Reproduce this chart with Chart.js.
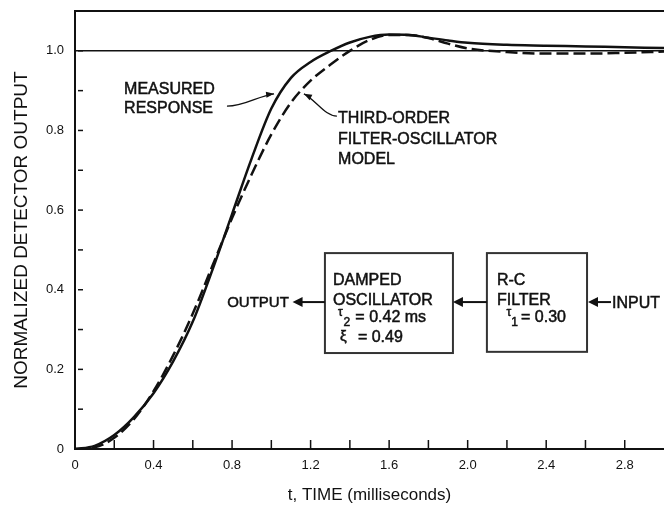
<!DOCTYPE html>
<html>
<head>
<meta charset="utf-8">
<script src="https://cdn.jsdelivr.net/npm/chart.js@4.4.1/dist/chart.umd.min.js"></script>
<style>
  html, body { margin: 0; padding: 0; background: #fff; }
  #wrap { width: 664px; height: 511px; }
</style>
</head>
<body>
<div id="wrap"><canvas id="c" width="664" height="511"></canvas></div>
<script>
// ---- data ----
const timeMs = [0, 0.1, 0.2, 0.3, 0.4, 0.5, 0.6, 0.7, 0.8, 0.9, 1.0, 1.1, 1.2, 1.3, 1.4, 1.5, 1.6, 1.7, 1.8, 1.9, 2.0, 2.2, 2.4, 2.6, 2.8, 3.0];
const measuredResponse = [0, 0.008, 0.035, 0.08, 0.14, 0.22, 0.32, 0.45, 0.59, 0.73, 0.855, 0.932, 0.972, 0.999, 1.021, 1.035, 1.041, 1.04, 1.033, 1.026, 1.02, 1.015, 1.013, 1.011, 1.009, 1.007];
const modelResponse = [0, 0.004, 0.028, 0.075, 0.145, 0.235, 0.34, 0.46, 0.58, 0.69, 0.79, 0.87, 0.925, 0.965, 1.0, 1.027, 1.04, 1.04, 1.032, 1.018, 1.006, 0.997, 0.993, 0.993, 0.995, 0.998];
const referenceT = [0, 3.0];
const referenceLevel = [1.0, 1.0];
const xTickLabels = ['0', '0.4', '0.8', '1.2', '1.6', '2.0', '2.4', '2.8'];
const yTickLabels = ['0', '0.2', '0.4', '0.6', '0.8', '1.0'];

const FONT = '"Liberation Sans", Arial, Helvetica, sans-serif';
const INK = '#111';

function pts(xs, ys) { return xs.map((x, i) => ({ x: x, y: ys[i] })); }

const decor = {
  id: 'decor',
  afterDraw(chart) {
    const ctx = chart.ctx;
    const xs = chart.scales.x, ys = chart.scales.y;
    const a = chart.chartArea;
    const X = t => xs.getPixelForValue(t);
    const Y = v => ys.getPixelForValue(v);
    ctx.save();
    ctx.strokeStyle = INK;
    ctx.fillStyle = INK;
    // top frame line
    ctx.lineWidth = 2;
    ctx.beginPath(); ctx.moveTo(a.left - 1, a.top); ctx.lineTo(a.right, a.top); ctx.stroke();
    // inner tick marks
    ctx.lineWidth = 1.5;
    xs.ticks.forEach(tk => {
      if (tk.value <= 0.001 || tk.value >= 2.99) return;
      const p = X(tk.value);
      ctx.beginPath(); ctx.moveTo(p, a.bottom); ctx.lineTo(p, a.bottom - 9); ctx.stroke();
    });
    ys.ticks.forEach(tk => {
      if (tk.value <= 0.001 || tk.value >= 1.09) return;
      const p = Y(tk.value);
      ctx.beginPath(); ctx.moveTo(a.left + 3, p); ctx.lineTo(a.left + 8, p); ctx.stroke();
    });

    function arrowHead(x1, y1, x2, y2, len, wid) {
      const ang = Math.atan2(y2 - y1, x2 - x1);
      ctx.beginPath();
      ctx.moveTo(x2, y2);
      ctx.lineTo(x2 - len * Math.cos(ang) + wid * Math.sin(ang), y2 - len * Math.sin(ang) - wid * Math.cos(ang));
      ctx.lineTo(x2 - len * Math.cos(ang) - wid * Math.sin(ang), y2 - len * Math.sin(ang) + wid * Math.cos(ang));
      ctx.closePath(); ctx.fill();
    }
    function text(s, t, v, size) {
      ctx.font = (size || 16) + 'px ' + FONT;
      ctx.textAlign = 'left'; ctx.textBaseline = 'alphabetic';
      ctx.lineWidth = 0.5;
      ctx.strokeStyle = INK;
      ctx.fillText(s, X(t), Y(v));
      ctx.strokeText(s, X(t), Y(v));
    }
    // labels for the curves
    text('MEASURED', 0.25, 0.892);
    text('RESPONSE', 0.25, 0.844);
    text('THIRD-ORDER', 1.34, 0.819);
    text('FILTER-OSCILLATOR', 1.34, 0.766);
    text('MODEL', 1.34, 0.716);
    // leader lines
    ctx.lineWidth = 1.3;
    ctx.beginPath();
    ctx.moveTo(X(0.774), Y(0.861));
    ctx.bezierCurveTo(X(0.866), Y(0.861), X(0.932), Y(0.887), X(1.014), Y(0.892));
    ctx.stroke();
    arrowHead(X(0.932), Y(0.887), X(1.014), Y(0.892), 8, 3);
    ctx.beginPath();
    ctx.moveTo(X(1.334), Y(0.836));
    ctx.bezierCurveTo(X(1.273), Y(0.836), X(1.228), Y(0.876), X(1.166), Y(0.892));
    ctx.stroke();
    arrowHead(X(1.228), Y(0.876), X(1.166), Y(0.892), 8, 3);

    // block diagram
    ctx.lineWidth = 2;
    ctx.strokeStyle = '#333';
    ctx.strokeRect(X(1.273), Y(0.492), X(1.925) - X(1.273), Y(0.241) - Y(0.492));
    ctx.strokeRect(X(2.098), Y(0.492), X(2.608) - X(2.098), Y(0.244) - Y(0.492));
    text('DAMPED', 1.314, 0.412);
    text('OSCILLATOR', 1.314, 0.362);
    text('\u03c4', 1.34, 0.334, 12);
    text('2', 1.368, 0.308, 12);
    text('= 0.42 ms', 1.428, 0.318);
    text('\u03be', 1.35, 0.272, 15);
    text('= 0.49', 1.441, 0.269);
    text('R-C', 2.149, 0.412);
    text('FILTER', 2.149, 0.362);
    text('\u03c4', 2.198, 0.334, 12);
    text('1', 2.222, 0.308, 12);
    text('= 0.30', 2.272, 0.318);
    text('OUTPUT', 0.775, 0.357, 15);
    text('INPUT', 2.735, 0.354);
    // arrows
    ctx.strokeStyle = INK;
    ctx.lineWidth = 2;
    const ay = Y(0.369);
    [[1.273, 1.108], [2.098, 1.925], [2.730, 2.613]].forEach(([from, to]) => {
      ctx.beginPath(); ctx.moveTo(X(from), ay); ctx.lineTo(X(to) + 6, ay); ctx.stroke();
      arrowHead(X(from), ay, X(to), ay, 10, 5);
    });
    ctx.restore();
  }
};

new Chart(document.getElementById('c'), {
  type: 'line',
  data: {
    datasets: [
      { label: 'Measured response', data: pts(timeMs, measuredResponse), borderColor: INK, borderWidth: 2.5, pointRadius: 0, cubicInterpolationMode: 'monotone', fill: false },
      { label: 'Third-order filter-oscillator model', data: pts(timeMs, modelResponse), borderColor: INK, borderWidth: 2.5, borderDash: [12, 5], pointRadius: 0, cubicInterpolationMode: 'monotone', fill: false },
      { label: 'Unit level', data: pts(referenceT, referenceLevel), borderColor: INK, borderWidth: 1.5, pointRadius: 0, fill: false }
    ]
  },
  options: {
    responsive: false,
    animation: false,
    layout: { padding: { top: 11, right: 0, left: 0, bottom: 0 } },
    plugins: { legend: { display: false }, tooltip: { enabled: false } },
    scales: {
      x: {
        type: 'linear', min: 0, max: 3.0,
        grid: { display: false, drawTicks: false },
        border: { display: true, color: INK, width: 2 },
        ticks: {
          stepSize: 0.2, autoSkip: false, maxRotation: 0, padding: 9,
          color: INK, font: { family: FONT, size: 13 },
          callback: v => { const k = Math.round(v * 10); return (k % 4 === 0 && k / 4 < xTickLabels.length) ? xTickLabels[k / 4] : ''; }
        },
        title: { display: true, text: 't, TIME (milliseconds)', color: INK, font: { family: FONT, size: 17 }, padding: { top: 0, bottom: 5 } },
        afterFit: s => { s.height = 62; s.paddingLeft = 0; s.paddingRight = 0; }
      },
      y: {
        min: 0, max: 1.1,
        grid: { display: false, drawTicks: false },
        border: { display: true, color: INK, width: 2 },
        ticks: {
          stepSize: 0.1, autoSkip: false, padding: 11,
          color: INK, font: { family: FONT, size: 13 },
          callback: v => { const k = Math.round(v * 10); return (k % 2 === 0 && k / 2 < yTickLabels.length) ? yTickLabels[k / 2] : ''; }
        },
        title: { display: true, text: 'NORMALIZED DETECTOR OUTPUT', color: INK, font: { family: FONT, size: 19 }, padding: { top: 10, bottom: 0 } },
        afterFit: s => { s.width = 75; s.paddingTop = 0; s.paddingBottom = 0; }
      }
    }
  },
  plugins: [decor]
});
</script>
</body>
</html>
